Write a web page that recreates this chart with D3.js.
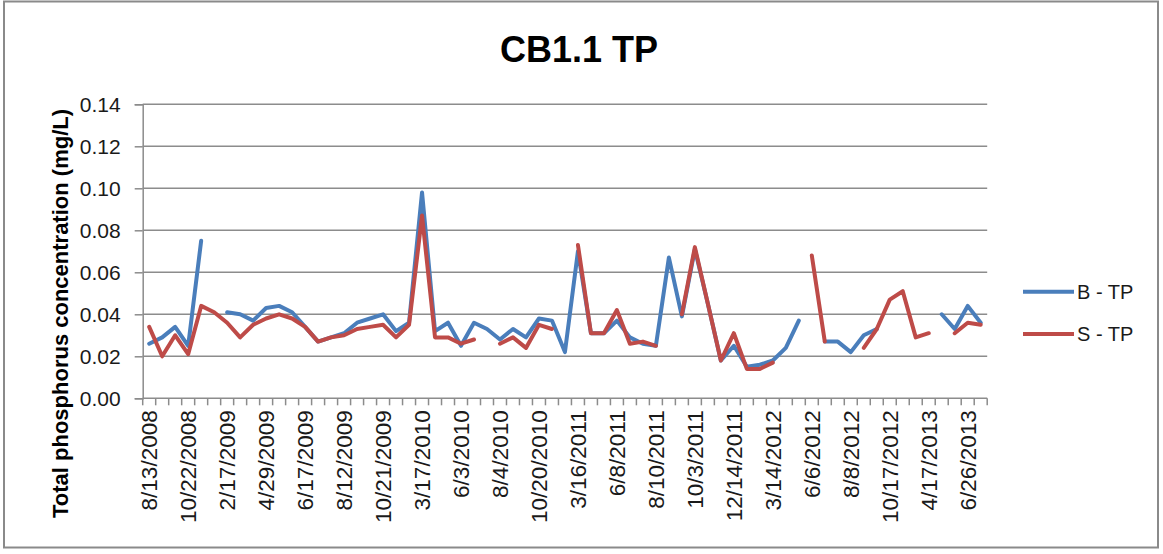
<!DOCTYPE html>
<html>
<head>
<meta charset="utf-8">
<script src="https://cdn.jsdelivr.net/npm/d3@7"></script>
<style>
  html, body { margin: 0; padding: 0; background: #ffffff; }
  svg { display: block; font-family: "Liberation Sans", Arial, sans-serif; }
</style>
</head>
<body>
<svg id="chart" width="1163" height="554"></svg>
<script>
// Sampling dates at station CB1.1 (one category per sampling event)
const sampleDates = [
  "8/13/2008", "9/10/2008", "10/8/2008", "10/22/2008", "11/19/2008", "12/10/2008",
  "2/17/2009", "3/18/2009", "4/15/2009", "4/29/2009", "5/13/2009", "5/27/2009",
  "6/17/2009", "7/8/2009", "7/22/2009", "8/12/2009", "8/26/2009", "9/23/2009",
  "10/21/2009", "11/18/2009", "12/16/2009", "3/17/2010", "4/21/2010", "5/12/2010",
  "6/3/2010", "6/23/2010", "7/14/2010", "8/4/2010", "8/25/2010", "9/22/2010",
  "10/20/2010", "11/17/2010", "12/15/2010", "3/16/2011", "4/20/2011", "5/18/2011",
  "6/8/2011", "6/22/2011", "7/20/2011", "8/10/2011", "8/31/2011", "9/21/2011",
  "10/3/2011", "10/26/2011", "11/16/2011", "12/14/2011", "1/18/2012", "2/15/2012",
  "3/14/2012", "4/18/2012", "5/16/2012", "6/6/2012", "6/20/2012", "7/18/2012",
  "8/8/2012", "8/22/2012", "9/19/2012", "10/17/2012", "11/14/2012", "12/12/2012",
  "4/17/2013", "5/15/2013", "6/12/2013", "6/26/2013", "7/17/2013"
];

// Bottom total phosphorus (mg/L); null = not sampled
const bottomTP = [
  0.026, 0.029, 0.034, 0.025, 0.075, null,
  0.041, 0.040, 0.037, 0.043, 0.044, 0.041,
  0.034, 0.027, 0.029, 0.031, 0.036, 0.038,
  0.040, 0.032, 0.036, 0.098, 0.032, 0.036,
  0.025, 0.036, 0.033, 0.028, 0.033, 0.029,
  0.038, 0.037, 0.022, 0.070, 0.031, 0.031,
  0.037, 0.029, 0.026, 0.025, 0.067, 0.039,
  0.071, 0.045, 0.018, 0.025, 0.015, 0.016,
  0.018, 0.024, 0.037, null, 0.027, 0.027,
  0.022, 0.030, 0.033, null, null, null,
  null, 0.040, 0.033, 0.044, 0.036
];

// Surface total phosphorus (mg/L); null = not sampled
const surfaceTP = [
  0.034, 0.020, 0.030, 0.021, 0.044, 0.041,
  0.036, 0.029, 0.035, 0.038, 0.040, 0.038,
  0.034, 0.027, 0.029, 0.030, 0.033, 0.034,
  0.035, 0.029, 0.035, 0.087, 0.029, 0.029,
  0.026, 0.028, null, 0.026, 0.029, 0.024,
  0.035, 0.033, null, 0.073, 0.031, 0.031,
  0.042, 0.026, 0.027, 0.025, null, 0.040,
  0.072, 0.045, 0.018, 0.031, 0.014, 0.014,
  0.017, null, null, 0.068, 0.027, null,
  null, 0.024, 0.033, 0.047, 0.051, 0.029,
  0.031, null, 0.031, 0.036, 0.035
];

const yTickValues = [0, 0.02, 0.04, 0.06, 0.08, 0.10, 0.12, 0.14];
const labelEvery = 3;

const seriesNames = ["B - TP", "S - TP"];
const seriesColors = ["#4a7ebb", "#be4b48"];

const svg = d3.select("#chart");
const plot = { left: 142.7, right: 987.2, top: 104.3, bottom: 398.3 };

// Chart frame
svg.append("rect")
  .attr("x", 4).attr("y", 1.5)
  .attr("width", 1154).attr("height", 546)
  .attr("fill", "#ffffff")
  .attr("stroke", "#8a8a8a")
  .attr("stroke-width", 2);

const x = d3.scaleBand()
  .domain(d3.range(sampleDates.length))
  .range([plot.left, plot.right])
  .paddingInner(0).paddingOuter(0);

const y = d3.scaleLinear()
  .domain([0, 0.14])
  .range([plot.bottom, plot.top]);

// Horizontal gridlines
svg.append("g")
  .selectAll("line")
  .data(yTickValues.filter(v => v > 0))
  .join("line")
  .attr("x1", plot.left).attr("x2", plot.right)
  .attr("y1", d => y(d)).attr("y2", d => y(d))
  .attr("stroke", "#8c8c8c")
  .attr("stroke-width", 1.5);

// Y axis
const yAxis = svg.append("g")
  .attr("transform", `translate(${plot.left},0)`)
  .call(d3.axisLeft(y).tickValues(yTickValues).tickFormat(d3.format(".2f")).tickSize(8).tickPadding(14));
yAxis.select(".domain").attr("stroke", "#8c8c8c").attr("stroke-width", 1.5);
yAxis.selectAll(".tick line").attr("stroke", "#8c8c8c").attr("stroke-width", 1.5);
yAxis.selectAll(".tick text")
  .attr("fill", "#1a1a1a")
  .style("font-size", "21px")
  .style("font-family", "'Liberation Sans', Arial, sans-serif");

// X axis line and boundary ticks
const xg = svg.append("g");
xg.append("line")
  .attr("x1", plot.left).attr("x2", plot.right)
  .attr("y1", plot.bottom).attr("y2", plot.bottom)
  .attr("stroke", "#8c8c8c").attr("stroke-width", 1.5);
xg.selectAll("line.tk")
  .data(d3.range(sampleDates.length + 1))
  .join("line")
  .attr("class", "tk")
  .attr("x1", i => plot.left + i * x.step())
  .attr("x2", i => plot.left + i * x.step())
  .attr("y1", plot.bottom).attr("y2", plot.bottom + 7)
  .attr("stroke", "#8c8c8c").attr("stroke-width", 1.5);

// Category labels, every third sampling date
xg.selectAll("text")
  .data(d3.range(0, sampleDates.length, labelEvery))
  .join("text")
  .attr("transform", i => `translate(${x(i) + x.bandwidth() / 2},${plot.bottom + 12}) rotate(-90)`)
  .attr("text-anchor", "end")
  .attr("dy", "0.35em")
  .attr("fill", "#1a1a1a")
  .style("font-size", "22.5px")
  .text(i => sampleDates[i]);

// Series lines (gaps where no sample was taken)
const line = d3.line()
  .defined(d => d.v != null)
  .x(d => x(d.i) + x.bandwidth() / 2)
  .y(d => y(d.v));

[bottomTP, surfaceTP].forEach((vals, k) => {
  svg.append("path")
    .datum(vals.map((v, i) => ({ i, v })))
    .attr("fill", "none")
    .attr("stroke", seriesColors[k])
    .attr("stroke-width", 4)
    .attr("stroke-linejoin", "round")
    .attr("stroke-linecap", "round")
    .attr("d", line);
});

// Title
svg.append("text")
  .attr("x", 579).attr("y", 62)
  .attr("text-anchor", "middle")
  .attr("fill", "#000000")
  .style("font-size", "36px")
  .style("font-weight", "bold")
  .text("CB1.1 TP");

// Y axis title
svg.append("text")
  .attr("transform", `translate(60,${(105 + 522) / 2}) rotate(-90)`)
  .attr("text-anchor", "middle")
  .attr("dy", "0.35em")
  .attr("fill", "#000000")
  .style("font-size", "22px")
  .style("font-weight", "bold")
  .text("Total phosphorus concentration (mg/L)");

// Legend
const legendY = [291.7, 334];
const legend = svg.append("g");
seriesNames.forEach((name, k) => {
  legend.append("line")
    .attr("x1", 1023).attr("x2", 1074)
    .attr("y1", legendY[k]).attr("y2", legendY[k])
    .attr("stroke", seriesColors[k]).attr("stroke-width", 4);
  legend.append("text")
    .attr("x", 1077).attr("y", legendY[k])
    .attr("dy", "0.35em")
    .attr("fill", "#1a1a1a")
    .style("font-size", "20px")
    .text(name);
});
</script>
</body>
</html>
